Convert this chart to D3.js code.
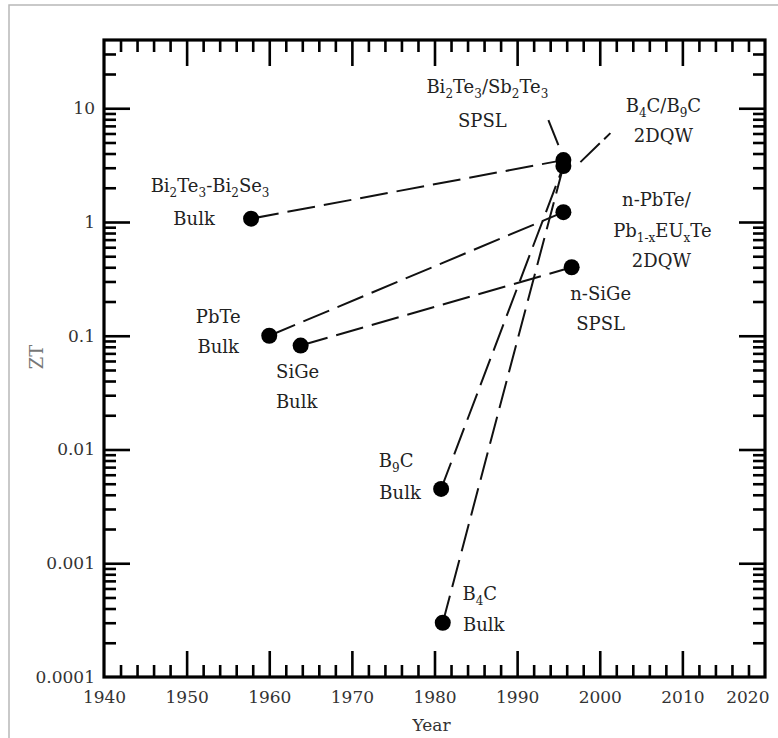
<!DOCTYPE html>
<html>
<head>
<meta charset="utf-8">
<script src="https://cdn.jsdelivr.net/npm/d3@7"></script>
<style>
body { margin: 0; background: #fff; }
svg { display: block; font-family: "DejaVu Serif", serif; }
</style>
</head>
<body>
<div id="chart"></div>
<script>
// Materials and their ZT
var names = ["Bi2Te3-Bi2Se3 Bulk", "PbTe Bulk", "SiGe Bulk", "B9C Bulk", "B4C Bulk",
  "Bi2Te3/Sb2Te3 SPSL", "B4C/B9C 2DQW", "n-PbTe/Pb1-xEUxTe 2DQW", "n-SiGe SPSL"];
var years = [1957.8, 1960.0, 1963.8, 1980.8, 1981.0, 1995.6, 1995.6, 1995.6, 1996.6];
var zt = [1.07, 0.1, 0.082, 0.0045, 0.0003, 3.5, 3.1, 1.22, 0.4];

// bulk material -> low-dimensional structure (indexes into the arrays above)
var links = [[0, 5], [1, 7], [2, 8], [3, 6], [4, 6]];

// label text, "_x" or "_{..}" is a subscript
var labelLines = [
  ["Bi_2Te_3-Bi_2Se_3", "Bulk"],
  ["PbTe", "Bulk"],
  ["SiGe", "Bulk"],
  ["B_9C", "Bulk"],
  ["B_4C", "Bulk"],
  ["Bi_2Te_3/Sb_2Te_3", "SPSL"],
  ["B_4C/B_9C", "2DQW"],
  ["n-PbTe/", "Pb_{1-x}EU_xTe", "2DQW"],
  ["n-SiGe", "SPSL"]
];

var xTickValues = [1940, 1950, 1960, 1970, 1980, 1990, 2000, 2010, 2020];
var xTickLabels = ["1940", "1950", "1960", "1970", "1980", "1990", "2000", "2010", "2020"];
var yTickValues = [0.0001, 0.001, 0.01, 0.1, 1, 10];
var yTickLabels = ["0.0001", "0.001", "0.01", "0.1", "1", "10"];

// ---- layout ----
var width = 778, height = 738;
var plot = {left: 104, right: 765, top: 40, bottom: 677};

// label line positions, pixels from each point (centre x, baseline)
var labelOffsets = [
  [[-41, -27], [-57, 6]],
  [[-51, -13], [-51, 17]],
  [[-3, 32], [-4, 62]],
  [[-45, -22], [-41, 10]],
  [[37, -23], [41, 8]],
  [[-76, -67], [-81, -33]],
  [[100, -54], [100, -24]],
  [[93, -6], [99, 25], [98, 55]],
  [[29, 33], [29, 63]]
];
// short leader strokes from a point towards its label
var leaders = [[5, -15, -40, -5, -15], [6, 17, -4, 47, -33]];

var svg = d3.select("#chart")
  .append("svg")
  .attr("width", width)
  .attr("height", height);

// light page border
svg.append("rect")
  .attr("x", 9).attr("y", 5)
  .attr("width", 900).attr("height", 900)
  .attr("fill", "none")
  .attr("stroke", "#b8b8b8")
  .attr("stroke-width", 1.5);

var x = d3.scaleLinear().domain([1940, 2020]).range([plot.left, plot.right]);
var y = d3.scaleLog().domain([0.0001, Math.pow(10, 1.6)]).range([plot.bottom, plot.top]);

// minor ticks: every two years, and 2..9 in each decade
var xMinor = d3.range(1942, 2020, 2).filter(function(v) { return v % 10 != 0; });
var yMinor = [];
[0.0001, 0.001, 0.01, 0.1, 1, 10].forEach(function(d) {
  for (var k = 2; k <= 9; k++) if (d * k < y.domain()[1]) yMinor.push(d * k);
});

function drawAxis(axis, tx, ty) {
  var g = svg.append("g")
    .attr("transform", "translate(" + tx + "," + ty + ")")
    .call(axis);
  g.select(".domain").remove();
  g.selectAll(".tick line").attr("stroke", "#000").attr("stroke-width", 2.6);
  g.selectAll("text")
    .attr("font-family", "DejaVu Serif")
    .attr("font-size", 17)
    .attr("fill", "#333");
  return g;
}

var minorLen = 12, majorLen = 26;

// bottom
drawAxis(d3.axisBottom(x).tickValues(xMinor).tickSize(-minorLen).tickFormat(""), 0, plot.bottom);
drawAxis(d3.axisBottom(x).tickValues(xTickValues.slice(1, -1)).tickSize(-majorLen).tickFormat(""), 0, plot.bottom);
var xLab = drawAxis(d3.axisBottom(x).tickValues(xTickValues).tickSize(0).tickPadding(14)
  .tickFormat(function(d, i) { return xTickLabels[i]; }), 0, plot.bottom);
// last year label sits inside the right edge
xLab.selectAll("text").filter(function(d) { return d == 2020; })
  .attr("text-anchor", "end").attr("dx", 4);
// top
drawAxis(d3.axisTop(x).tickValues(xMinor).tickSize(-minorLen).tickFormat(""), 0, plot.top);
drawAxis(d3.axisTop(x).tickValues(xTickValues.slice(1, -1)).tickSize(-majorLen).tickFormat(""), 0, plot.top);
// left
drawAxis(d3.axisLeft(y).tickValues(yMinor).tickSize(-minorLen).tickFormat(""), plot.left, 0);
drawAxis(d3.axisLeft(y).tickValues(yTickValues.slice(1)).tickSize(-majorLen).tickFormat(""), plot.left, 0);
drawAxis(d3.axisLeft(y).tickValues(yTickValues).tickSize(0).tickPadding(9)
  .tickFormat(function(d, i) { return yTickLabels[i]; }), plot.left, 0);
// right
drawAxis(d3.axisRight(y).tickValues(yMinor).tickSize(-minorLen).tickFormat(""), plot.right, 0);
drawAxis(d3.axisRight(y).tickValues(yTickValues.slice(1)).tickSize(-majorLen).tickFormat(""), plot.right, 0);

// plot frame
svg.append("rect")
  .attr("x", plot.left).attr("y", plot.top)
  .attr("width", plot.right - plot.left).attr("height", plot.bottom - plot.top)
  .attr("fill", "none")
  .attr("stroke", "#000")
  .attr("stroke-width", 3.2);

// axis titles
svg.append("text")
  .attr("x", (plot.left + plot.right) / 2 - 3)
  .attr("y", 731)
  .attr("text-anchor", "middle")
  .attr("font-size", 17)
  .attr("fill", "#333")
  .text("Year");

svg.append("text")
  .attr("transform", "translate(43,357) rotate(-90)")
  .attr("text-anchor", "middle")
  .attr("font-size", 18)
  .attr("fill", "#777")
  .text("ZT");

// dashed links between bulk and structured materials
var g = svg.append("g");
g.selectAll("line.link")
  .data(links)
  .enter()
  .append("line")
  .attr("class", "link")
  .attr("x1", function(d) { return x(years[d[0]]); })
  .attr("y1", function(d) { return y(zt[d[0]]); })
  .attr("x2", function(d) { return x(years[d[1]]); })
  .attr("y2", function(d) { return y(zt[d[1]]); })
  .attr("stroke", "#111")
  .attr("stroke-width", 2)
  .attr("stroke-dasharray", "28,9");

g.selectAll("line.leader")
  .data(leaders)
  .enter()
  .append("line")
  .attr("class", "leader")
  .attr("x1", function(d) { return x(years[d[0]]) + d[1]; })
  .attr("y1", function(d) { return y(zt[d[0]]) + d[2]; })
  .attr("x2", function(d) { return x(years[d[0]]) + d[3]; })
  .attr("y2", function(d) { return y(zt[d[0]]) + d[4]; })
  .attr("stroke", "#111")
  .attr("stroke-width", 2)
  .attr("stroke-dasharray", "27,6");

// points
g.selectAll("circle")
  .data(names)
  .enter()
  .append("circle")
  .attr("cx", function(d, i) { return x(years[i]); })
  .attr("cy", function(d, i) { return y(zt[i]); })
  .attr("r", 8)
  .attr("fill", "#000");

// write a string with _x / _{..} subscripts into a text element
function richText(sel, s) {
  var parts = s.split(/(_\{[^}]*\}|_.)/);
  var shifted = false;
  parts.forEach(function(p) {
    if (!p) return;
    if (p[0] == "_") {
      var sub = p[1] == "{" ? p.slice(2, -1) : p.slice(1);
      sel.append("tspan").attr("dy", shifted ? 0 : 5).attr("font-size", 12).text(sub);
      shifted = true;
    } else {
      sel.append("tspan").attr("dy", shifted ? -5 : 0).text(p);
      shifted = false;
    }
  });
}

// labels
labelLines.forEach(function(lines, i) {
  var px = x(years[i]), py = y(zt[i]);
  lines.forEach(function(line, j) {
    var t = svg.append("text")
      .attr("x", px + labelOffsets[i][j][0])
      .attr("y", py + labelOffsets[i][j][1])
      .attr("text-anchor", "middle")
      .attr("font-size", 18)
      .attr("fill", "#222");
    richText(t, line);
  });
});
</script>
</body>
</html>
